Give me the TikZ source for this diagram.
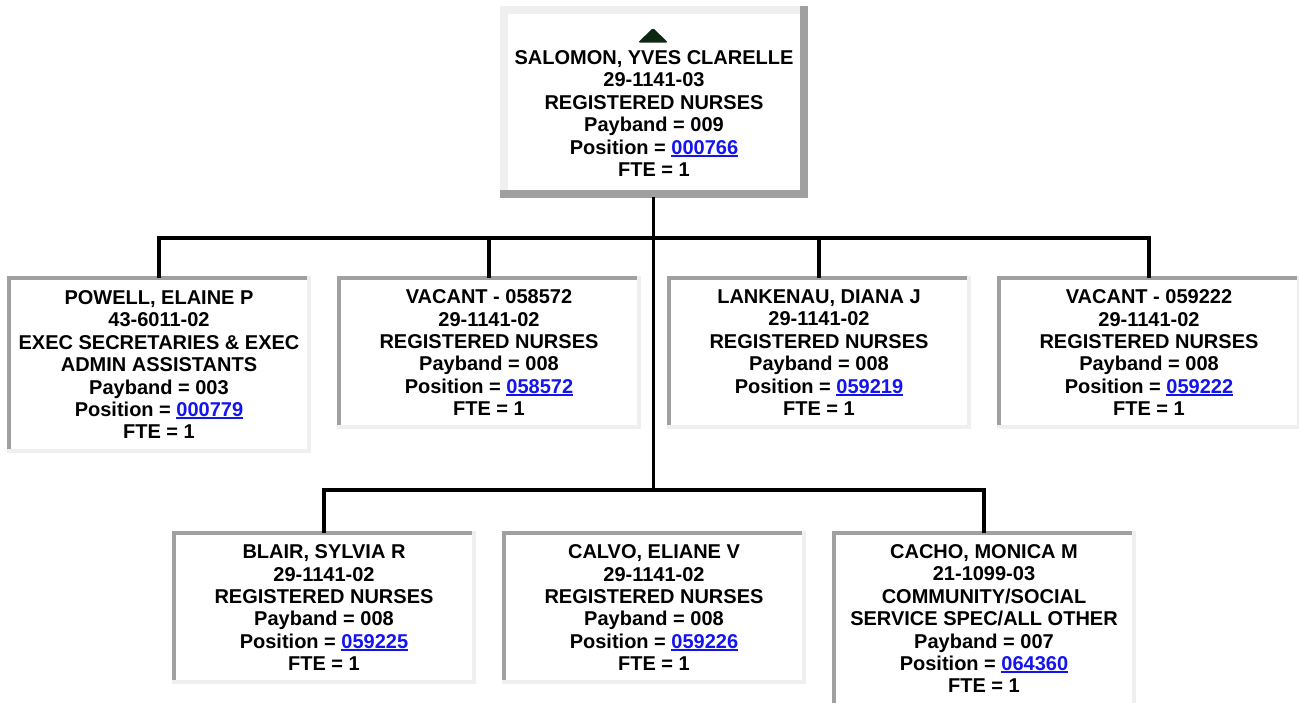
\documentclass[tikz,border=0pt]{standalone}
\usepackage{fontspec}
\setmainfont{Liberation Sans}
\usetikzlibrary{positioning}
\definecolor{edgedark}{RGB}{160,160,160}
\definecolor{edgelight}{RGB}{239,239,239}
\definecolor{linkblue}{RGB}{20,20,240}
\definecolor{arrowgreen}{RGB}{12,40,18}
\newcommand\poslink[1]{{\color{linkblue}\setbox0\hbox{#1}\rlap{\rule[-2.6pt]{\wd0}{1.8pt}}\box0}}

\begin{document}
\begin{tikzpicture}[x=1pt,y=-1pt,card/.style={fill=white,minimum width=304,inner sep=0,anchor=north,align=center,font=\bfseries\fontsize{20}{22.4}\selectfont},wire/.style={line width=3.6,line join=miter,line cap=rect}]
\useasboundingbox (0,0) rectangle (1299,702);
% head of unit
\node[card,minimum width=308,minimum height=192] (salomon) at (654,6) {\rule{0pt}{14.3pt}\\SALOMON, YVES CLARELLE\\29-1141-03\\REGISTERED NURSES\\Payband = 009\\Position = \poslink{000766}\\FTE = 1};
\draw[edgelight,line width=8,line join=miter] ([shift={(4,0)}]salomon.south west) -- ([shift={(4,4)}]salomon.north west) -- ([shift={(0,4)}]salomon.north east);
\draw[edgedark,line width=8,line join=miter] ([shift={(-4,0)}]salomon.north east) -- ([shift={(-4,-4)}]salomon.south east) -- ([shift={(0,-4)}]salomon.south west);
\fill[arrowgreen,rounded corners=1.5] (638,42.5) -- (653,28) -- (668,42.5) -- cycle;
% first row
\node[card,minimum height=177] (powell) at (159,276) {POWELL, ELAINE P\\43-6011-02\\EXEC SECRETARIES \& EXEC\\ADMIN ASSISTANTS\\Payband = 003\\Position = \poslink{000779}\\FTE = 1};
\node[card,minimum height=153] (vacanta) at (489,276) {VACANT - 058572\\29-1141-02\\REGISTERED NURSES\\Payband = 008\\Position = \poslink{058572}\\FTE = 1};
\node[card,minimum height=153] (lankenau) at (819,276) {LANKENAU, DIANA J\\29-1141-02\\REGISTERED NURSES\\Payband = 008\\Position = \poslink{059219}\\FTE = 1};
\node[card,minimum height=153] (vacantb) at (1149,276) {VACANT - 059222\\29-1141-02\\REGISTERED NURSES\\Payband = 008\\Position = \poslink{059222}\\FTE = 1};
% second row
\node[card,minimum height=153] (blair) at (324,531) {BLAIR, SYLVIA R\\29-1141-02\\REGISTERED NURSES\\Payband = 008\\Position = \poslink{059225}\\FTE = 1};
\node[card,minimum height=153] (calvo) at (654,531) {CALVO, ELIANE V\\29-1141-02\\REGISTERED NURSES\\Payband = 008\\Position = \poslink{059226}\\FTE = 1};
\node[card,minimum height=182] (cacho) at (984,531) {CACHO, MONICA M\\21-1099-03\\COMMUNITY/SOCIAL\\SERVICE SPEC/ALL OTHER\\Payband = 007\\Position = \poslink{064360}\\FTE = 1\rule[-7pt]{0pt}{7pt}};
\foreach \n in {powell,vacanta,lankenau,vacantb,blair,calvo,cacho}{
  \draw[edgedark,line width=4,line join=miter] ([shift={(2,0)}]\n.south west) -- ([shift={(2,2)}]\n.north west) -- ([shift={(0,2)}]\n.north east);
  \draw[edgelight,line width=4,line join=miter] ([shift={(-2,0)}]\n.north east) -- ([shift={(-2,-2)}]\n.south east) -- ([shift={(0,-2)}]\n.south west);
}
% connectors
\coordinate (busa) at (653.5,238);
\coordinate (busb) at (653.5,490);
\draw[wire] (salomon.south -| busa) -- (busb);
\draw[wire] (powell.north) |- (busa) -| (vacantb.north);
\draw[wire] (vacanta.north) -- (vacanta.north |- busa);
\draw[wire] (lankenau.north) -- (lankenau.north |- busa);
\draw[wire] (blair.north) |- (busb) -| (cacho.north);
\end{tikzpicture}
\end{document}
